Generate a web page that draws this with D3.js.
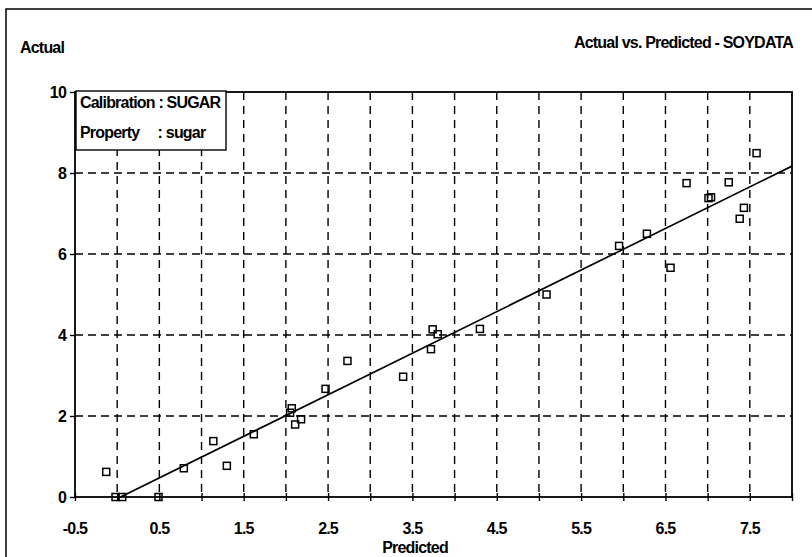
<!DOCTYPE html>
<html><head><meta charset="utf-8">
<script src="https://cdn.jsdelivr.net/npm/d3@7"></script>
<style>
body{margin:0;background:#fff;}
text{font-family:"Liberation Sans",Arial,sans-serif;font-weight:bold;fill:#000;}
</style></head>
<body><svg id="c" width="812" height="557"></svg>
<script>
const predicted = [-0.13,-0.02,0.06,0.49,0.79,1.14,1.30,1.62,2.05,2.07,2.11,2.18,2.47,2.73,3.39,3.72,3.74,3.80,4.30,5.09,5.95,6.28,6.56,6.75,7.01,7.04,7.25,7.38,7.43,7.58];
const actual    = [0.62,0.0,0.0,0.0,0.71,1.38,0.77,1.55,2.08,2.19,1.79,1.92,2.67,3.36,2.97,3.65,4.14,4.02,4.15,5.00,6.20,6.50,5.66,7.75,7.38,7.40,7.77,6.87,7.14,8.49];
const fitLine = [[0.04,0],[8,8.17]];
const xTickLabels = ["-0.5","0.5","1.5","2.5","3.5","4.5","5.5","6.5","7.5"];
const xGrid = d3.range(0,8,0.5);
const yTickLabels = [0,2,4,6,8,10];
const yGrid = [2,4,6,8];
const titleText = "Actual vs. Predicted - SOYDATA";
const legendLines = ["Calibration : SUGAR","Property     : sugar"];

const FS = 16, LS = -0.8;
const svg = d3.select("#c");
const L=75,R=792,T=92,B=497;
const x = d3.scaleLinear().domain([-0.5,8]).range([L,R]);
const y = d3.scaleLinear().domain([0,10]).range([B,T]);

// outer frame
svg.append("path").attr("d","M6,560 L6,9 L815,9").attr("fill","none").attr("stroke","#000").attr("stroke-width",1.5);

// titles
svg.append("text").attr("x",20).attr("y",53).attr("font-size",FS).attr("letter-spacing",LS).text("Actual");
svg.append("text").attr("x",793).attr("y",48).attr("text-anchor","end").attr("font-size",FS).attr("letter-spacing",LS).text(titleText);
svg.append("text").attr("x",415).attr("y",553).attr("text-anchor","middle").attr("font-size",FS).attr("letter-spacing",LS).text("Predicted");

// grid
const g = svg.append("g");
g.selectAll(".vg").data(xGrid).join("line")
 .attr("x1",d=>x(d)).attr("x2",d=>x(d)).attr("y1",T).attr("y2",B)
 .attr("stroke","#000").attr("stroke-width",1.4).attr("stroke-dasharray","8,6");
g.selectAll(".hg").data(yGrid).join("line")
 .attr("x1",L).attr("x2",R).attr("y1",d=>y(d)).attr("y2",d=>y(d))
 .attr("stroke","#000").attr("stroke-width",1.4).attr("stroke-dasharray","8,5");

// axes
const xAxis = d3.axisBottom(x).tickValues(d3.range(-0.5,8.01,0.5)).tickSize(4).tickFormat("");
const xa = svg.append("g").attr("transform",`translate(0,${B})`).call(xAxis);
xa.select(".domain").remove();
xa.selectAll(".tick line").attr("y1",-4).attr("stroke-width",1.4);
svg.append("g").selectAll("text").data(xTickLabels).join("text")
 .attr("x",d=>x(+d)).attr("y",534).attr("text-anchor","middle").attr("font-size",FS).attr("letter-spacing",LS)
 .text(d=>d);

const yAxis = d3.axisLeft(y).tickValues(yTickLabels).tickSize(5).tickPadding(4).tickFormat(d=>d);
const ya = svg.append("g").attr("transform",`translate(${L},0)`).call(yAxis);
ya.select(".domain").remove();
ya.selectAll(".tick line").attr("stroke-width",1.4);
ya.selectAll(".tick text").attr("font-size",FS).attr("font-family","Liberation Sans, Arial, sans-serif").attr("font-weight","bold").attr("letter-spacing",LS);

// frame
svg.append("rect").attr("x",L).attr("y",T).attr("width",R-L).attr("height",B-T)
 .attr("fill","none").attr("stroke","#000").attr("stroke-width",1.8);

// legend box
const lg = svg.append("g");
lg.append("rect").attr("x",76).attr("y",91).attr("width",150).attr("height",59).attr("fill","#fff").attr("stroke","#000").attr("stroke-width",1.4);
lg.selectAll("text").data(legendLines).join("text")
 .attr("x",80).attr("y",(d,i)=>108+i*30).attr("font-size",FS).attr("letter-spacing",LS)
 .attr("xml:space","preserve").style("white-space","pre").text(d=>d);

// fit line
svg.append("path").datum(fitLine)
 .attr("d",d3.line().x(d=>x(d[0])).y(d=>y(d[1])))
 .attr("fill","none").attr("stroke","#000").attr("stroke-width",1.7);

// points
svg.append("g").selectAll("rect").data(predicted.map((p,i)=>[p,actual[i]])).join("rect")
 .attr("x",d=>x(d[0])-3.5).attr("y",d=>y(d[1])-3.5).attr("width",7).attr("height",7)
 .attr("fill","none").attr("stroke","#000").attr("stroke-width",1.5);
</script></body></html>
